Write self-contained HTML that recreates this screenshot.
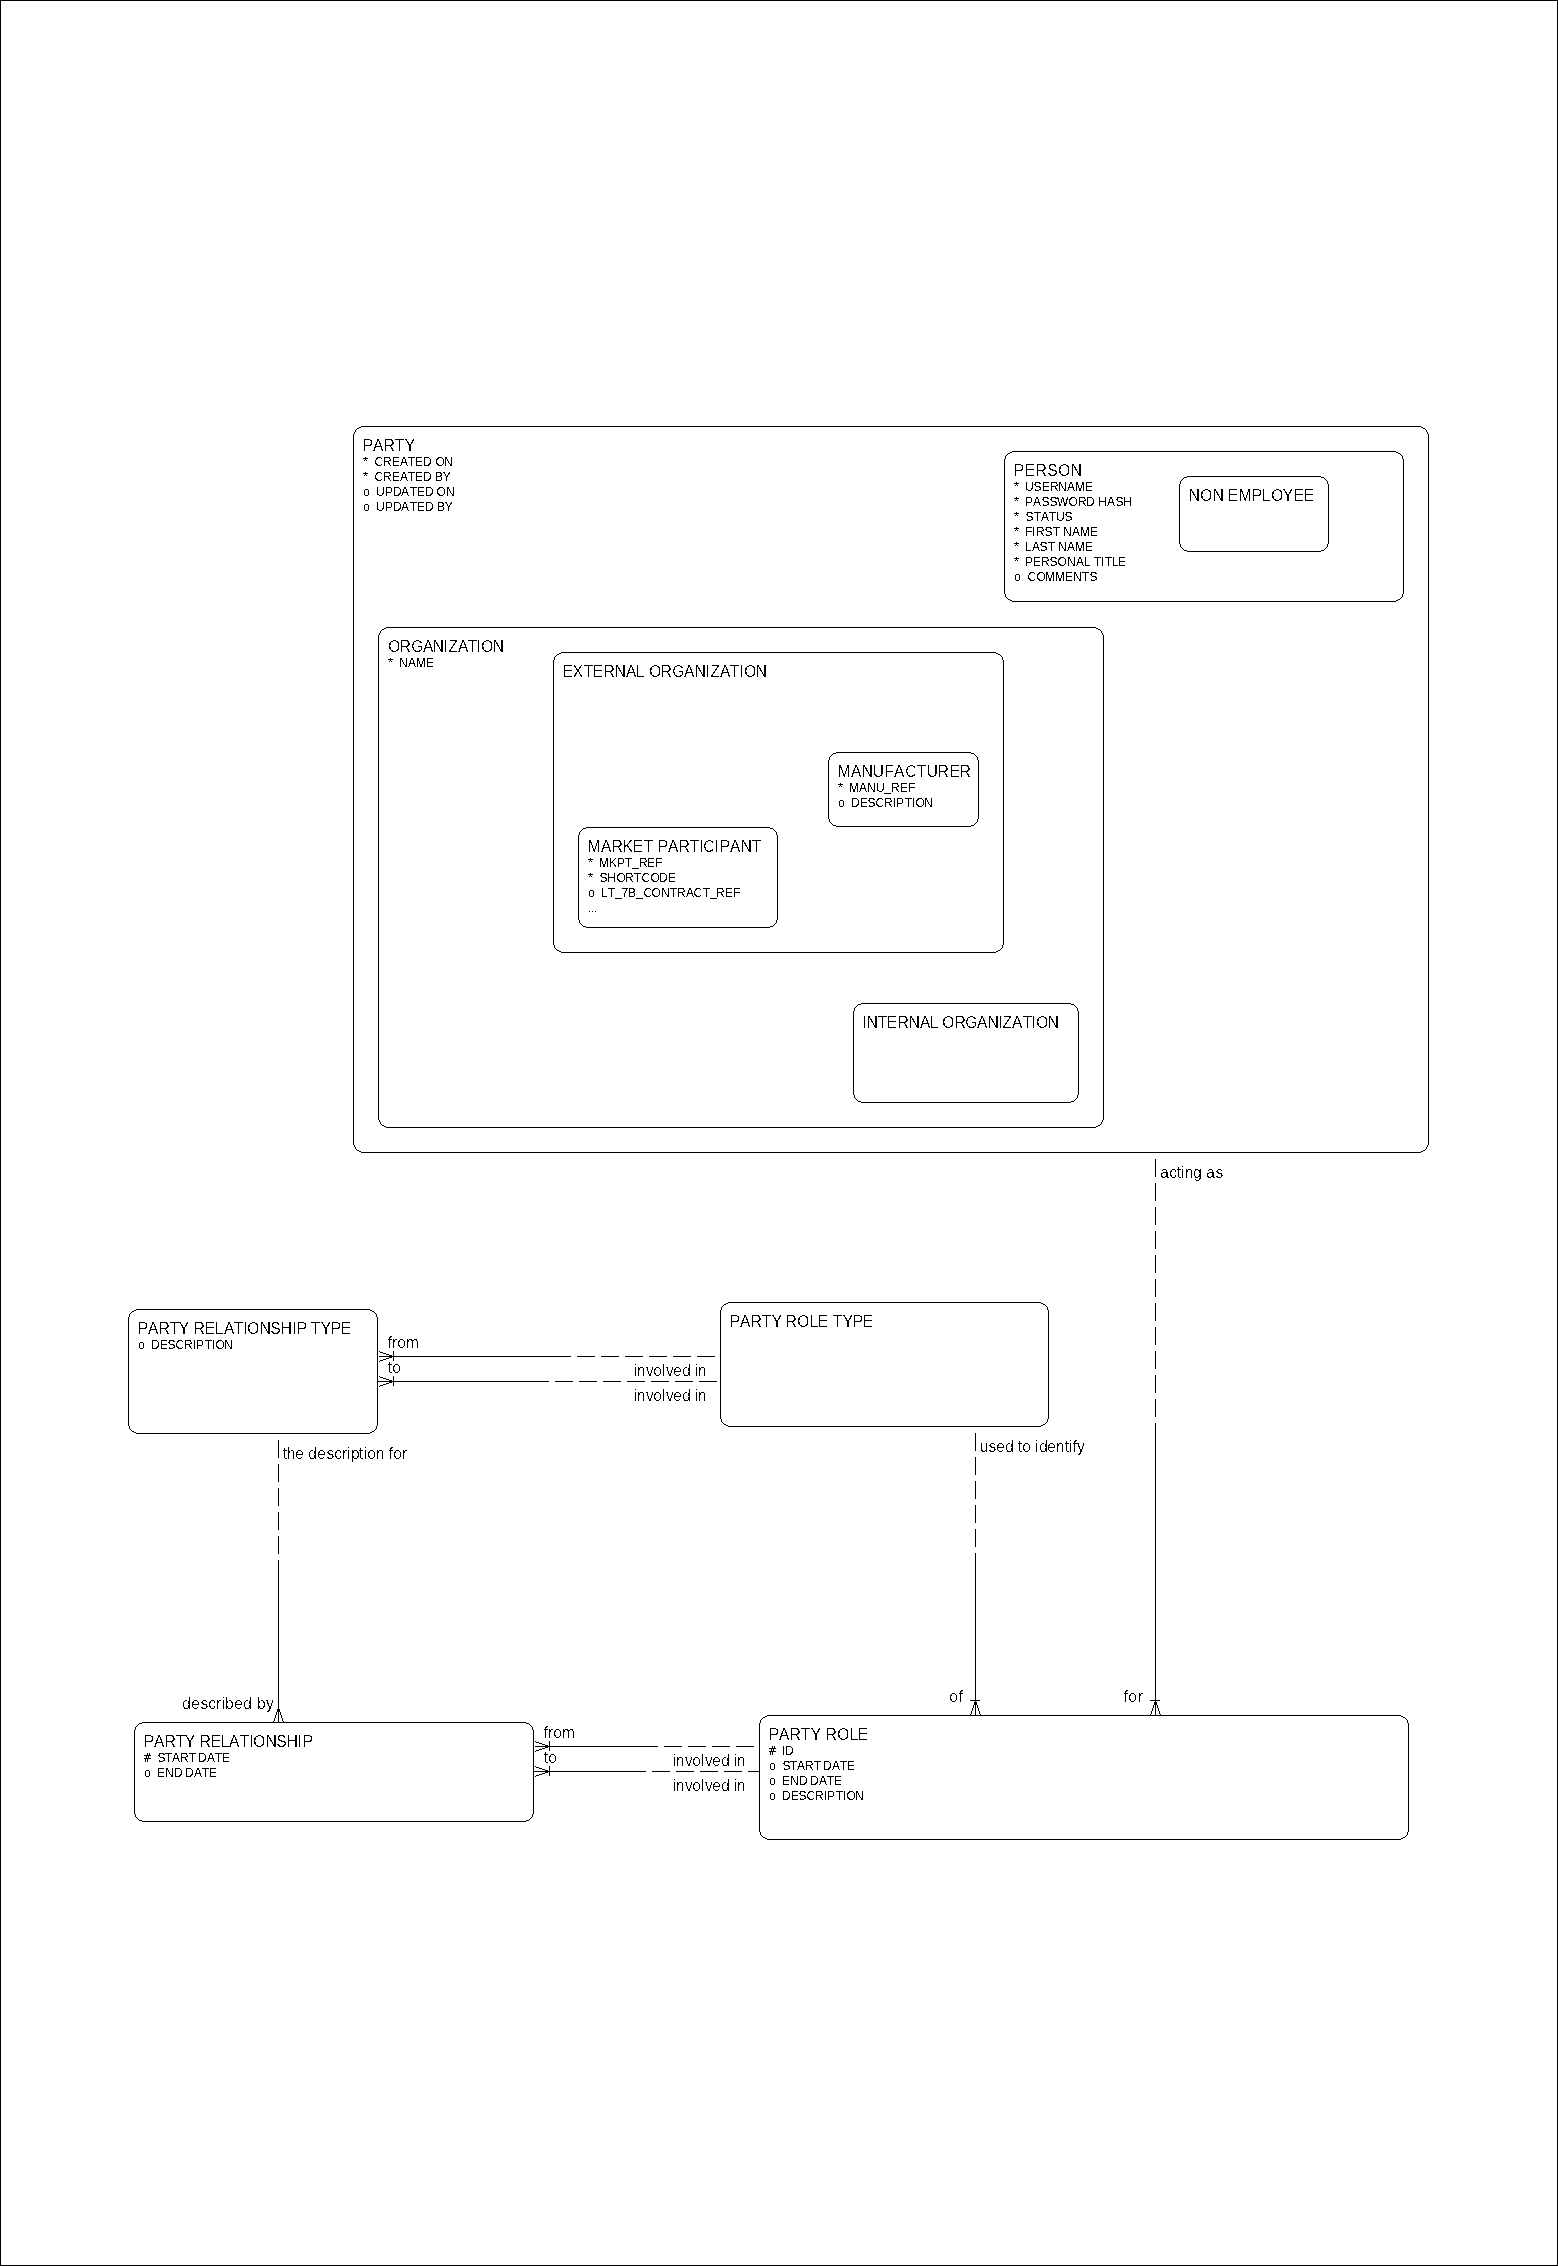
<!DOCTYPE html>
<html><head><meta charset="utf-8"><style>
html,body{margin:0;padding:0;background:#fff;}
body{width:1558px;height:2266px;overflow:hidden;}
svg{display:block;}
text{font-family:"Liberation Sans",sans-serif;fill:#000;white-space:pre;}
.s path,.s rect{fill:none;stroke:#000;stroke-width:1;}
.s rect.f{fill:#000;stroke:none;}
</style></head><body>
<svg width="1558" height="2266" viewBox="0 0 1558 2266">
<rect x="0.5" y="0.5" width="1557" height="2265" fill="#fff" stroke="#000" stroke-width="1"/>
<path d="M361 426h1060v1h-1060zM361 1152h1060v1h-1060zM353 434v711h1v-711zM1428 434v711h1v-711zM359 427h1v1h-1zM1422 427h1v1h-1zM359 1151h1v1h-1zM1422 1151h1v1h-1zM360 427h1v1h-1zM1421 427h1v1h-1zM360 1151h1v1h-1zM1421 1151h1v1h-1zM357 428h1v1h-1zM1424 428h1v1h-1zM357 1150h1v1h-1zM1424 1150h1v1h-1zM358 428h1v1h-1zM1423 428h1v1h-1zM358 1150h1v1h-1zM1423 1150h1v1h-1zM356 429h1v1h-1zM1425 429h1v1h-1zM356 1149h1v1h-1zM1425 1149h1v1h-1zM355 430h1v1h-1zM1426 430h1v1h-1zM355 1148h1v1h-1zM1426 1148h1v1h-1zM355 431h1v1h-1zM1426 431h1v1h-1zM355 1147h1v1h-1zM1426 1147h1v1h-1zM354 432h1v1h-1zM1427 432h1v1h-1zM354 1146h1v1h-1zM1427 1146h1v1h-1zM354 433h1v1h-1zM1427 433h1v1h-1zM354 1145h1v1h-1zM1427 1145h1v1h-1zM365 457h1v1h-1zM363 458h1v1h-1zM364 458h1v1h-1zM365 458h1v1h-1zM366 458h1v1h-1zM367 458h1v1h-1zM365 459h1v1h-1zM364 460h1v1h-1zM366 460h1v1h-1zM365 472h1v1h-1zM363 473h1v1h-1zM364 473h1v1h-1zM365 473h1v1h-1zM366 473h1v1h-1zM367 473h1v1h-1zM365 474h1v1h-1zM364 475h1v1h-1zM366 475h1v1h-1zM365 489h1v1h-1zM366 489h1v1h-1zM367 489h1v1h-1zM365 495h1v1h-1zM366 495h1v1h-1zM367 495h1v1h-1zM364 490h1v1h-1zM364 491h1v1h-1zM364 492h1v1h-1zM364 493h1v1h-1zM364 494h1v1h-1zM368 490h1v1h-1zM368 491h1v1h-1zM368 492h1v1h-1zM368 493h1v1h-1zM368 494h1v1h-1zM365 504h1v1h-1zM366 504h1v1h-1zM367 504h1v1h-1zM365 510h1v1h-1zM366 510h1v1h-1zM367 510h1v1h-1zM364 505h1v1h-1zM364 506h1v1h-1zM364 507h1v1h-1zM364 508h1v1h-1zM364 509h1v1h-1zM368 505h1v1h-1zM368 506h1v1h-1zM368 507h1v1h-1zM368 508h1v1h-1zM368 509h1v1h-1zM1012 451h384v1h-384zM1012 601h384v1h-384zM1004 459v135h1v-135zM1403 459v135h1v-135zM1010 452h1v1h-1zM1397 452h1v1h-1zM1010 600h1v1h-1zM1397 600h1v1h-1zM1011 452h1v1h-1zM1396 452h1v1h-1zM1011 600h1v1h-1zM1396 600h1v1h-1zM1008 453h1v1h-1zM1399 453h1v1h-1zM1008 599h1v1h-1zM1399 599h1v1h-1zM1009 453h1v1h-1zM1398 453h1v1h-1zM1009 599h1v1h-1zM1398 599h1v1h-1zM1007 454h1v1h-1zM1400 454h1v1h-1zM1007 598h1v1h-1zM1400 598h1v1h-1zM1006 455h1v1h-1zM1401 455h1v1h-1zM1006 597h1v1h-1zM1401 597h1v1h-1zM1005 456h1v1h-1zM1402 456h1v1h-1zM1005 596h1v1h-1zM1402 596h1v1h-1zM1005 457h1v1h-1zM1402 457h1v1h-1zM1005 595h1v1h-1zM1402 595h1v1h-1zM1005 458h1v1h-1zM1402 458h1v1h-1zM1005 594h1v1h-1zM1402 594h1v1h-1zM1016 482h1v1h-1zM1014 483h1v1h-1zM1015 483h1v1h-1zM1016 483h1v1h-1zM1017 483h1v1h-1zM1018 483h1v1h-1zM1016 484h1v1h-1zM1015 485h1v1h-1zM1017 485h1v1h-1zM1016 497h1v1h-1zM1014 498h1v1h-1zM1015 498h1v1h-1zM1016 498h1v1h-1zM1017 498h1v1h-1zM1018 498h1v1h-1zM1016 499h1v1h-1zM1015 500h1v1h-1zM1017 500h1v1h-1zM1016 512h1v1h-1zM1014 513h1v1h-1zM1015 513h1v1h-1zM1016 513h1v1h-1zM1017 513h1v1h-1zM1018 513h1v1h-1zM1016 514h1v1h-1zM1015 515h1v1h-1zM1017 515h1v1h-1zM1016 527h1v1h-1zM1014 528h1v1h-1zM1015 528h1v1h-1zM1016 528h1v1h-1zM1017 528h1v1h-1zM1018 528h1v1h-1zM1016 529h1v1h-1zM1015 530h1v1h-1zM1017 530h1v1h-1zM1016 542h1v1h-1zM1014 543h1v1h-1zM1015 543h1v1h-1zM1016 543h1v1h-1zM1017 543h1v1h-1zM1018 543h1v1h-1zM1016 544h1v1h-1zM1015 545h1v1h-1zM1017 545h1v1h-1zM1016 557h1v1h-1zM1014 558h1v1h-1zM1015 558h1v1h-1zM1016 558h1v1h-1zM1017 558h1v1h-1zM1018 558h1v1h-1zM1016 559h1v1h-1zM1015 560h1v1h-1zM1017 560h1v1h-1zM1016 574h1v1h-1zM1017 574h1v1h-1zM1018 574h1v1h-1zM1016 580h1v1h-1zM1017 580h1v1h-1zM1018 580h1v1h-1zM1015 575h1v1h-1zM1015 576h1v1h-1zM1015 577h1v1h-1zM1015 578h1v1h-1zM1015 579h1v1h-1zM1019 575h1v1h-1zM1019 576h1v1h-1zM1019 577h1v1h-1zM1019 578h1v1h-1zM1019 579h1v1h-1zM1187 476h134v1h-134zM1187 551h134v1h-134zM1179 484v60h1v-60zM1328 484v60h1v-60zM1184 477h1v1h-1zM1323 477h1v1h-1zM1184 550h1v1h-1zM1323 550h1v1h-1zM1185 477h1v1h-1zM1322 477h1v1h-1zM1185 550h1v1h-1zM1322 550h1v1h-1zM1186 477h1v1h-1zM1321 477h1v1h-1zM1186 550h1v1h-1zM1321 550h1v1h-1zM1183 478h1v1h-1zM1324 478h1v1h-1zM1183 549h1v1h-1zM1324 549h1v1h-1zM1182 479h1v1h-1zM1325 479h1v1h-1zM1182 548h1v1h-1zM1325 548h1v1h-1zM1181 480h1v1h-1zM1326 480h1v1h-1zM1181 547h1v1h-1zM1326 547h1v1h-1zM1180 481h1v1h-1zM1327 481h1v1h-1zM1180 546h1v1h-1zM1327 546h1v1h-1zM1180 482h1v1h-1zM1327 482h1v1h-1zM1180 545h1v1h-1zM1327 545h1v1h-1zM1180 483h1v1h-1zM1327 483h1v1h-1zM1180 544h1v1h-1zM1327 544h1v1h-1zM386 627h710v1h-710zM386 1127h710v1h-710zM378 635v485h1v-485zM1103 635v485h1v-485zM384 628h1v1h-1zM1097 628h1v1h-1zM384 1126h1v1h-1zM1097 1126h1v1h-1zM385 628h1v1h-1zM1096 628h1v1h-1zM385 1126h1v1h-1zM1096 1126h1v1h-1zM382 629h1v1h-1zM1099 629h1v1h-1zM382 1125h1v1h-1zM1099 1125h1v1h-1zM383 629h1v1h-1zM1098 629h1v1h-1zM383 1125h1v1h-1zM1098 1125h1v1h-1zM381 630h1v1h-1zM1100 630h1v1h-1zM381 1124h1v1h-1zM1100 1124h1v1h-1zM380 631h1v1h-1zM1101 631h1v1h-1zM380 1123h1v1h-1zM1101 1123h1v1h-1zM380 632h1v1h-1zM1101 632h1v1h-1zM380 1122h1v1h-1zM1101 1122h1v1h-1zM379 633h1v1h-1zM1102 633h1v1h-1zM379 1121h1v1h-1zM1102 1121h1v1h-1zM379 634h1v1h-1zM1102 634h1v1h-1zM379 1120h1v1h-1zM1102 1120h1v1h-1zM390 658h1v1h-1zM388 659h1v1h-1zM389 659h1v1h-1zM390 659h1v1h-1zM391 659h1v1h-1zM392 659h1v1h-1zM390 660h1v1h-1zM389 661h1v1h-1zM391 661h1v1h-1zM561 652h435v1h-435zM561 952h435v1h-435zM553 660v285h1v-285zM1003 660v285h1v-285zM559 653h1v1h-1zM997 653h1v1h-1zM559 951h1v1h-1zM997 951h1v1h-1zM560 653h1v1h-1zM996 653h1v1h-1zM560 951h1v1h-1zM996 951h1v1h-1zM557 654h1v1h-1zM999 654h1v1h-1zM557 950h1v1h-1zM999 950h1v1h-1zM558 654h1v1h-1zM998 654h1v1h-1zM558 950h1v1h-1zM998 950h1v1h-1zM556 655h1v1h-1zM1000 655h1v1h-1zM556 949h1v1h-1zM1000 949h1v1h-1zM555 656h1v1h-1zM1001 656h1v1h-1zM555 948h1v1h-1zM1001 948h1v1h-1zM554 657h1v1h-1zM1002 657h1v1h-1zM554 947h1v1h-1zM1002 947h1v1h-1zM554 658h1v1h-1zM1002 658h1v1h-1zM554 946h1v1h-1zM1002 946h1v1h-1zM554 659h1v1h-1zM1002 659h1v1h-1zM554 945h1v1h-1zM1002 945h1v1h-1zM836 752h135v1h-135zM836 826h135v1h-135zM828 760v59h1v-59zM978 760v59h1v-59zM833 753h1v1h-1zM973 753h1v1h-1zM833 825h1v1h-1zM973 825h1v1h-1zM834 753h1v1h-1zM972 753h1v1h-1zM834 825h1v1h-1zM972 825h1v1h-1zM835 753h1v1h-1zM971 753h1v1h-1zM835 825h1v1h-1zM971 825h1v1h-1zM832 754h1v1h-1zM974 754h1v1h-1zM832 824h1v1h-1zM974 824h1v1h-1zM831 755h1v1h-1zM975 755h1v1h-1zM831 823h1v1h-1zM975 823h1v1h-1zM830 756h1v1h-1zM976 756h1v1h-1zM830 822h1v1h-1zM976 822h1v1h-1zM829 757h1v1h-1zM977 757h1v1h-1zM829 821h1v1h-1zM977 821h1v1h-1zM829 758h1v1h-1zM977 758h1v1h-1zM829 820h1v1h-1zM977 820h1v1h-1zM829 759h1v1h-1zM977 759h1v1h-1zM829 819h1v1h-1zM977 819h1v1h-1zM840 783h1v1h-1zM838 784h1v1h-1zM839 784h1v1h-1zM840 784h1v1h-1zM841 784h1v1h-1zM842 784h1v1h-1zM840 785h1v1h-1zM839 786h1v1h-1zM841 786h1v1h-1zM840 800h1v1h-1zM841 800h1v1h-1zM842 800h1v1h-1zM840 806h1v1h-1zM841 806h1v1h-1zM842 806h1v1h-1zM839 801h1v1h-1zM839 802h1v1h-1zM839 803h1v1h-1zM839 804h1v1h-1zM839 805h1v1h-1zM843 801h1v1h-1zM843 802h1v1h-1zM843 803h1v1h-1zM843 804h1v1h-1zM843 805h1v1h-1zM586 827h184v1h-184zM586 927h184v1h-184zM578 835v85h1v-85zM777 835v85h1v-85zM583 828h1v1h-1zM772 828h1v1h-1zM583 926h1v1h-1zM772 926h1v1h-1zM584 828h1v1h-1zM771 828h1v1h-1zM584 926h1v1h-1zM771 926h1v1h-1zM585 828h1v1h-1zM770 828h1v1h-1zM585 926h1v1h-1zM770 926h1v1h-1zM582 829h1v1h-1zM773 829h1v1h-1zM582 925h1v1h-1zM773 925h1v1h-1zM581 830h1v1h-1zM774 830h1v1h-1zM581 924h1v1h-1zM774 924h1v1h-1zM580 831h1v1h-1zM775 831h1v1h-1zM580 923h1v1h-1zM775 923h1v1h-1zM579 832h1v1h-1zM776 832h1v1h-1zM579 922h1v1h-1zM776 922h1v1h-1zM579 833h1v1h-1zM776 833h1v1h-1zM579 921h1v1h-1zM776 921h1v1h-1zM579 834h1v1h-1zM776 834h1v1h-1zM579 920h1v1h-1zM776 920h1v1h-1zM590 858h1v1h-1zM588 859h1v1h-1zM589 859h1v1h-1zM590 859h1v1h-1zM591 859h1v1h-1zM592 859h1v1h-1zM590 860h1v1h-1zM589 861h1v1h-1zM591 861h1v1h-1zM590 873h1v1h-1zM588 874h1v1h-1zM589 874h1v1h-1zM590 874h1v1h-1zM591 874h1v1h-1zM592 874h1v1h-1zM590 875h1v1h-1zM589 876h1v1h-1zM591 876h1v1h-1zM590 890h1v1h-1zM591 890h1v1h-1zM592 890h1v1h-1zM590 896h1v1h-1zM591 896h1v1h-1zM592 896h1v1h-1zM589 891h1v1h-1zM589 892h1v1h-1zM589 893h1v1h-1zM589 894h1v1h-1zM589 895h1v1h-1zM593 891h1v1h-1zM593 892h1v1h-1zM593 893h1v1h-1zM593 894h1v1h-1zM593 895h1v1h-1zM589 911h1v1h-1zM592 911h1v1h-1zM595 911h1v1h-1zM861 1003h210v1h-210zM861 1102h210v1h-210zM853 1011v84h1v-84zM1078 1011v84h1v-84zM858 1004h1v1h-1zM1073 1004h1v1h-1zM858 1101h1v1h-1zM1073 1101h1v1h-1zM859 1004h1v1h-1zM1072 1004h1v1h-1zM859 1101h1v1h-1zM1072 1101h1v1h-1zM860 1004h1v1h-1zM1071 1004h1v1h-1zM860 1101h1v1h-1zM1071 1101h1v1h-1zM857 1005h1v1h-1zM1074 1005h1v1h-1zM857 1100h1v1h-1zM1074 1100h1v1h-1zM856 1006h1v1h-1zM1075 1006h1v1h-1zM856 1099h1v1h-1zM1075 1099h1v1h-1zM855 1007h1v1h-1zM1076 1007h1v1h-1zM855 1098h1v1h-1zM1076 1098h1v1h-1zM854 1008h1v1h-1zM1077 1008h1v1h-1zM854 1097h1v1h-1zM1077 1097h1v1h-1zM854 1009h1v1h-1zM1077 1009h1v1h-1zM854 1096h1v1h-1zM1077 1096h1v1h-1zM854 1010h1v1h-1zM1077 1010h1v1h-1zM854 1095h1v1h-1zM1077 1095h1v1h-1zM136 1309h234v1h-234zM136 1433h234v1h-234zM128 1317v109h1v-109zM377 1317v109h1v-109zM134 1310h1v1h-1zM371 1310h1v1h-1zM134 1432h1v1h-1zM371 1432h1v1h-1zM135 1310h1v1h-1zM370 1310h1v1h-1zM135 1432h1v1h-1zM370 1432h1v1h-1zM132 1311h1v1h-1zM373 1311h1v1h-1zM132 1431h1v1h-1zM373 1431h1v1h-1zM133 1311h1v1h-1zM372 1311h1v1h-1zM133 1431h1v1h-1zM372 1431h1v1h-1zM131 1312h1v1h-1zM374 1312h1v1h-1zM131 1430h1v1h-1zM374 1430h1v1h-1zM130 1313h1v1h-1zM375 1313h1v1h-1zM130 1429h1v1h-1zM375 1429h1v1h-1zM129 1314h1v1h-1zM376 1314h1v1h-1zM129 1428h1v1h-1zM376 1428h1v1h-1zM129 1315h1v1h-1zM376 1315h1v1h-1zM129 1427h1v1h-1zM376 1427h1v1h-1zM129 1316h1v1h-1zM376 1316h1v1h-1zM129 1426h1v1h-1zM376 1426h1v1h-1zM140 1342h1v1h-1zM141 1342h1v1h-1zM142 1342h1v1h-1zM140 1348h1v1h-1zM141 1348h1v1h-1zM142 1348h1v1h-1zM139 1343h1v1h-1zM139 1344h1v1h-1zM139 1345h1v1h-1zM139 1346h1v1h-1zM139 1347h1v1h-1zM143 1343h1v1h-1zM143 1344h1v1h-1zM143 1345h1v1h-1zM143 1346h1v1h-1zM143 1347h1v1h-1zM728 1302h313v1h-313zM728 1426h313v1h-313zM720 1310v109h1v-109zM1048 1310v109h1v-109zM726 1303h1v1h-1zM1042 1303h1v1h-1zM726 1425h1v1h-1zM1042 1425h1v1h-1zM727 1303h1v1h-1zM1041 1303h1v1h-1zM727 1425h1v1h-1zM1041 1425h1v1h-1zM724 1304h1v1h-1zM1044 1304h1v1h-1zM724 1424h1v1h-1zM1044 1424h1v1h-1zM725 1304h1v1h-1zM1043 1304h1v1h-1zM725 1424h1v1h-1zM1043 1424h1v1h-1zM723 1305h1v1h-1zM1045 1305h1v1h-1zM723 1423h1v1h-1zM1045 1423h1v1h-1zM722 1306h1v1h-1zM1046 1306h1v1h-1zM722 1422h1v1h-1zM1046 1422h1v1h-1zM721 1307h1v1h-1zM1047 1307h1v1h-1zM721 1421h1v1h-1zM1047 1421h1v1h-1zM721 1308h1v1h-1zM1047 1308h1v1h-1zM721 1420h1v1h-1zM1047 1420h1v1h-1zM721 1309h1v1h-1zM1047 1309h1v1h-1zM721 1419h1v1h-1zM1047 1419h1v1h-1zM142 1722h384v1h-384zM142 1821h384v1h-384zM134 1730v84h1v-84zM533 1730v84h1v-84zM139 1723h1v1h-1zM528 1723h1v1h-1zM139 1820h1v1h-1zM528 1820h1v1h-1zM140 1723h1v1h-1zM527 1723h1v1h-1zM140 1820h1v1h-1zM527 1820h1v1h-1zM141 1723h1v1h-1zM526 1723h1v1h-1zM141 1820h1v1h-1zM526 1820h1v1h-1zM138 1724h1v1h-1zM529 1724h1v1h-1zM138 1819h1v1h-1zM529 1819h1v1h-1zM137 1725h1v1h-1zM530 1725h1v1h-1zM137 1818h1v1h-1zM530 1818h1v1h-1zM136 1726h1v1h-1zM531 1726h1v1h-1zM136 1817h1v1h-1zM531 1817h1v1h-1zM135 1727h1v1h-1zM532 1727h1v1h-1zM135 1816h1v1h-1zM532 1816h1v1h-1zM135 1728h1v1h-1zM532 1728h1v1h-1zM135 1815h1v1h-1zM532 1815h1v1h-1zM135 1729h1v1h-1zM532 1729h1v1h-1zM135 1814h1v1h-1zM532 1814h1v1h-1zM147 1753h1v1h-1zM149 1753h1v1h-1zM147 1754h1v1h-1zM149 1754h1v1h-1zM144 1755h1v1h-1zM145 1755h1v1h-1zM146 1755h1v1h-1zM147 1755h1v1h-1zM148 1755h1v1h-1zM149 1755h1v1h-1zM150 1755h1v1h-1zM146 1756h1v1h-1zM148 1756h1v1h-1zM146 1757h1v1h-1zM148 1757h1v1h-1zM144 1758h1v1h-1zM145 1758h1v1h-1zM146 1758h1v1h-1zM147 1758h1v1h-1zM148 1758h1v1h-1zM149 1758h1v1h-1zM150 1758h1v1h-1zM145 1759h1v1h-1zM147 1759h1v1h-1zM145 1760h1v1h-1zM147 1760h1v1h-1zM145 1761h1v1h-1zM147 1761h1v1h-1zM146 1770h1v1h-1zM147 1770h1v1h-1zM148 1770h1v1h-1zM146 1776h1v1h-1zM147 1776h1v1h-1zM148 1776h1v1h-1zM145 1771h1v1h-1zM145 1772h1v1h-1zM145 1773h1v1h-1zM145 1774h1v1h-1zM145 1775h1v1h-1zM149 1771h1v1h-1zM149 1772h1v1h-1zM149 1773h1v1h-1zM149 1774h1v1h-1zM149 1775h1v1h-1zM767 1715h634v1h-634zM767 1839h634v1h-634zM759 1723v109h1v-109zM1408 1723v109h1v-109zM765 1716h1v1h-1zM1402 1716h1v1h-1zM765 1838h1v1h-1zM1402 1838h1v1h-1zM766 1716h1v1h-1zM1401 1716h1v1h-1zM766 1838h1v1h-1zM1401 1838h1v1h-1zM763 1717h1v1h-1zM1404 1717h1v1h-1zM763 1837h1v1h-1zM1404 1837h1v1h-1zM764 1717h1v1h-1zM1403 1717h1v1h-1zM764 1837h1v1h-1zM1403 1837h1v1h-1zM762 1718h1v1h-1zM1405 1718h1v1h-1zM762 1836h1v1h-1zM1405 1836h1v1h-1zM761 1719h1v1h-1zM1406 1719h1v1h-1zM761 1835h1v1h-1zM1406 1835h1v1h-1zM760 1720h1v1h-1zM1407 1720h1v1h-1zM760 1834h1v1h-1zM1407 1834h1v1h-1zM760 1721h1v1h-1zM1407 1721h1v1h-1zM760 1833h1v1h-1zM1407 1833h1v1h-1zM760 1722h1v1h-1zM1407 1722h1v1h-1zM760 1832h1v1h-1zM1407 1832h1v1h-1zM772 1746h1v1h-1zM774 1746h1v1h-1zM772 1747h1v1h-1zM774 1747h1v1h-1zM769 1748h1v1h-1zM770 1748h1v1h-1zM771 1748h1v1h-1zM772 1748h1v1h-1zM773 1748h1v1h-1zM774 1748h1v1h-1zM775 1748h1v1h-1zM771 1749h1v1h-1zM773 1749h1v1h-1zM771 1750h1v1h-1zM773 1750h1v1h-1zM769 1751h1v1h-1zM770 1751h1v1h-1zM771 1751h1v1h-1zM772 1751h1v1h-1zM773 1751h1v1h-1zM774 1751h1v1h-1zM775 1751h1v1h-1zM770 1752h1v1h-1zM772 1752h1v1h-1zM770 1753h1v1h-1zM772 1753h1v1h-1zM770 1754h1v1h-1zM772 1754h1v1h-1zM771 1763h1v1h-1zM772 1763h1v1h-1zM773 1763h1v1h-1zM771 1769h1v1h-1zM772 1769h1v1h-1zM773 1769h1v1h-1zM770 1764h1v1h-1zM770 1765h1v1h-1zM770 1766h1v1h-1zM770 1767h1v1h-1zM770 1768h1v1h-1zM774 1764h1v1h-1zM774 1765h1v1h-1zM774 1766h1v1h-1zM774 1767h1v1h-1zM774 1768h1v1h-1zM771 1778h1v1h-1zM772 1778h1v1h-1zM773 1778h1v1h-1zM771 1784h1v1h-1zM772 1784h1v1h-1zM773 1784h1v1h-1zM770 1779h1v1h-1zM770 1780h1v1h-1zM770 1781h1v1h-1zM770 1782h1v1h-1zM770 1783h1v1h-1zM774 1779h1v1h-1zM774 1780h1v1h-1zM774 1781h1v1h-1zM774 1782h1v1h-1zM774 1783h1v1h-1zM771 1793h1v1h-1zM772 1793h1v1h-1zM773 1793h1v1h-1zM771 1799h1v1h-1zM772 1799h1v1h-1zM773 1799h1v1h-1zM770 1794h1v1h-1zM770 1795h1v1h-1zM770 1796h1v1h-1zM770 1797h1v1h-1zM770 1798h1v1h-1zM774 1794h1v1h-1zM774 1795h1v1h-1zM774 1796h1v1h-1zM774 1797h1v1h-1zM774 1798h1v1h-1zM379 1351h1v1h-1zM379 1361h1v1h-1zM380 1352h1v1h-1zM380 1360h1v1h-1zM381 1352h1v1h-1zM381 1360h1v1h-1zM382 1352h1v1h-1zM382 1360h1v1h-1zM383 1353h1v1h-1zM383 1359h1v1h-1zM384 1353h1v1h-1zM384 1359h1v1h-1zM385 1353h1v1h-1zM385 1359h1v1h-1zM386 1354h1v1h-1zM386 1358h1v1h-1zM387 1354h1v1h-1zM387 1358h1v1h-1zM388 1354h1v1h-1zM388 1358h1v1h-1zM389 1355h1v1h-1zM389 1356h1v1h-1zM389 1357h1v1h-1zM390 1355h1v1h-1zM390 1356h1v1h-1zM390 1357h1v1h-1zM391 1355h1v1h-1zM391 1356h1v1h-1zM391 1357h1v1h-1zM379 1376h1v1h-1zM379 1386h1v1h-1zM380 1377h1v1h-1zM380 1385h1v1h-1zM381 1377h1v1h-1zM381 1385h1v1h-1zM382 1377h1v1h-1zM382 1385h1v1h-1zM383 1378h1v1h-1zM383 1384h1v1h-1zM384 1378h1v1h-1zM384 1384h1v1h-1zM385 1378h1v1h-1zM385 1384h1v1h-1zM386 1379h1v1h-1zM386 1383h1v1h-1zM387 1379h1v1h-1zM387 1383h1v1h-1zM388 1379h1v1h-1zM388 1383h1v1h-1zM389 1380h1v1h-1zM389 1381h1v1h-1zM389 1382h1v1h-1zM390 1380h1v1h-1zM390 1381h1v1h-1zM390 1382h1v1h-1zM391 1380h1v1h-1zM391 1381h1v1h-1zM391 1382h1v1h-1zM277 1709h1v1h-1zM277 1710h1v1h-1zM277 1711h1v1h-1zM278 1709h1v1h-1zM278 1710h1v1h-1zM278 1711h1v1h-1zM279 1709h1v1h-1zM279 1710h1v1h-1zM279 1711h1v1h-1zM276 1712h1v1h-1zM280 1712h1v1h-1zM276 1713h1v1h-1zM280 1713h1v1h-1zM276 1714h1v1h-1zM280 1714h1v1h-1zM275 1715h1v1h-1zM281 1715h1v1h-1zM275 1716h1v1h-1zM281 1716h1v1h-1zM275 1717h1v1h-1zM281 1717h1v1h-1zM274 1718h1v1h-1zM282 1718h1v1h-1zM274 1719h1v1h-1zM282 1719h1v1h-1zM274 1720h1v1h-1zM282 1720h1v1h-1zM273 1721h1v1h-1zM283 1721h1v1h-1zM974 1702h1v1h-1zM974 1703h1v1h-1zM974 1704h1v1h-1zM975 1702h1v1h-1zM975 1703h1v1h-1zM975 1704h1v1h-1zM976 1702h1v1h-1zM976 1703h1v1h-1zM976 1704h1v1h-1zM973 1705h1v1h-1zM977 1705h1v1h-1zM973 1706h1v1h-1zM977 1706h1v1h-1zM973 1707h1v1h-1zM977 1707h1v1h-1zM972 1708h1v1h-1zM978 1708h1v1h-1zM972 1709h1v1h-1zM978 1709h1v1h-1zM972 1710h1v1h-1zM978 1710h1v1h-1zM971 1711h1v1h-1zM979 1711h1v1h-1zM971 1712h1v1h-1zM979 1712h1v1h-1zM971 1713h1v1h-1zM979 1713h1v1h-1zM970 1714h1v1h-1zM980 1714h1v1h-1zM1154 1702h1v1h-1zM1154 1703h1v1h-1zM1154 1704h1v1h-1zM1155 1702h1v1h-1zM1155 1703h1v1h-1zM1155 1704h1v1h-1zM1156 1702h1v1h-1zM1156 1703h1v1h-1zM1156 1704h1v1h-1zM1153 1705h1v1h-1zM1157 1705h1v1h-1zM1153 1706h1v1h-1zM1157 1706h1v1h-1zM1153 1707h1v1h-1zM1157 1707h1v1h-1zM1152 1708h1v1h-1zM1158 1708h1v1h-1zM1152 1709h1v1h-1zM1158 1709h1v1h-1zM1152 1710h1v1h-1zM1158 1710h1v1h-1zM1151 1711h1v1h-1zM1159 1711h1v1h-1zM1151 1712h1v1h-1zM1159 1712h1v1h-1zM1151 1713h1v1h-1zM1159 1713h1v1h-1zM1150 1714h1v1h-1zM1160 1714h1v1h-1zM535 1741h1v1h-1zM535 1751h1v1h-1zM536 1742h1v1h-1zM536 1750h1v1h-1zM537 1742h1v1h-1zM537 1750h1v1h-1zM538 1742h1v1h-1zM538 1750h1v1h-1zM539 1743h1v1h-1zM539 1749h1v1h-1zM540 1743h1v1h-1zM540 1749h1v1h-1zM541 1743h1v1h-1zM541 1749h1v1h-1zM542 1744h1v1h-1zM542 1748h1v1h-1zM543 1744h1v1h-1zM543 1748h1v1h-1zM544 1744h1v1h-1zM544 1748h1v1h-1zM545 1745h1v1h-1zM545 1746h1v1h-1zM545 1747h1v1h-1zM546 1745h1v1h-1zM546 1746h1v1h-1zM546 1747h1v1h-1zM547 1745h1v1h-1zM547 1746h1v1h-1zM547 1747h1v1h-1zM535 1766h1v1h-1zM535 1776h1v1h-1zM536 1767h1v1h-1zM536 1775h1v1h-1zM537 1767h1v1h-1zM537 1775h1v1h-1zM538 1767h1v1h-1zM538 1775h1v1h-1zM539 1768h1v1h-1zM539 1774h1v1h-1zM540 1768h1v1h-1zM540 1774h1v1h-1zM541 1768h1v1h-1zM541 1774h1v1h-1zM542 1769h1v1h-1zM542 1773h1v1h-1zM543 1769h1v1h-1zM543 1773h1v1h-1zM544 1769h1v1h-1zM544 1773h1v1h-1zM545 1770h1v1h-1zM545 1771h1v1h-1zM545 1772h1v1h-1zM546 1770h1v1h-1zM546 1771h1v1h-1zM546 1772h1v1h-1zM547 1770h1v1h-1zM547 1771h1v1h-1zM547 1772h1v1h-1z" fill="#000" shape-rendering="crispEdges"/>
<g class="s" shape-rendering="crispEdges">
<path d="M379 1356.5H571"/>
<path d="M577 1356.5H595"/>
<path d="M601 1356.5H619"/>
<path d="M625 1356.5H643"/>
<path d="M649 1356.5H667"/>
<path d="M673 1356.5H691"/>
<path d="M697 1356.5H715"/>
<path d="M393.5 1351V1361"/>
<path d="M378 1381.5H549"/>
<path d="M555 1381.5H573"/>
<path d="M579 1381.5H597"/>
<path d="M603 1381.5H621"/>
<path d="M627 1381.5H645"/>
<path d="M651 1381.5H669"/>
<path d="M675 1381.5H693"/>
<path d="M699 1381.5H717"/>
<path d="M393.5 1376V1386"/>
<path d="M278.5 1440V1458"/>
<path d="M278.5 1464V1482"/>
<path d="M278.5 1488V1506"/>
<path d="M278.5 1512V1530"/>
<path d="M278.5 1536V1554"/>
<path d="M278.5 1560V1722"/>
<path d="M975.5 1433V1451"/>
<path d="M975.5 1457V1475"/>
<path d="M975.5 1481V1499"/>
<path d="M975.5 1505V1523"/>
<path d="M975.5 1529V1547"/>
<path d="M975.5 1553V1715"/>
<path d="M970 1700.5H980"/>
<path d="M1155.5 1159V1177"/>
<path d="M1155.5 1183V1201"/>
<path d="M1155.5 1207V1225"/>
<path d="M1155.5 1231V1249"/>
<path d="M1155.5 1255V1273"/>
<path d="M1155.5 1279V1297"/>
<path d="M1155.5 1303V1321"/>
<path d="M1155.5 1327V1345"/>
<path d="M1155.5 1351V1369"/>
<path d="M1155.5 1375V1393"/>
<path d="M1155.5 1399V1417"/>
<path d="M1155.5 1423V1715"/>
<path d="M1150 1700.5H1160"/>
<path d="M535 1746.5H658"/>
<path d="M664 1746.5H682"/>
<path d="M688 1746.5H706"/>
<path d="M712 1746.5H730"/>
<path d="M736 1746.5H754"/>
<path d="M549.5 1741V1751"/>
<path d="M534 1771.5H646"/>
<path d="M652 1771.5H670"/>
<path d="M676 1771.5H694"/>
<path d="M700 1771.5H718"/>
<path d="M724 1771.5H742"/>
<path d="M748 1771.5H759"/>
<path d="M549.5 1766V1776"/>
</g>
<g class="t" filter="url(#th)">
<text x="374.39 383.02 392.02 399.98 407.73 415.02 423.02 432.00 435.43 444.02" y="466" font-size="12">CREATED ON</text>
<text x="374.39 383.02 392.02 399.98 407.73 415.02 423.02 432.00 435.02 442.74" y="481" font-size="12">CREATED BY</text>
<text x="376.07 385.02 393.02 400.98 409.73 417.02 425.02 433.00 436.43 446.02" y="496" font-size="12">UPDATED ON</text>
<text x="376.07 385.02 393.02 400.98 409.73 417.02 425.02 433.00 437.02 444.74" y="511" font-size="12">UPDATED BY</text>
<text x="1025.07 1033.46 1042.02 1050.02 1058.02 1066.98 1075.02 1085.02" y="491" font-size="12">USERNAME</text>
<text x="1025.02 1032.98 1041.46 1049.46 1056.95 1068.43 1078.02 1086.02 1095.00 1098.02 1106.98 1115.46 1123.02" y="506" font-size="12">PASSWORD HASH</text>
<text x="1025.46 1033.73 1040.98 1048.73 1056.07 1064.46" y="521" font-size="12">STATUS</text>
<text x="1025.02 1031.89 1036.02 1044.46 1052.73 1060.00 1063.02 1071.98 1080.02 1090.02" y="536" font-size="12">FIRST NAME</text>
<text x="1025.02 1031.98 1039.46 1047.73 1055.00 1058.02 1066.98 1075.02 1085.02" y="551" font-size="12">LAST NAME</text>
<text x="1025.02 1033.02 1041.02 1049.46 1057.43 1067.02 1075.98 1084.02 1090.00 1093.73 1100.89 1104.73 1112.02 1118.02" y="566" font-size="12">PERSONAL TITLE</text>
<text x="1027.39 1036.43 1045.02 1055.02 1065.02 1073.02 1081.73 1089.46" y="581" font-size="12">COMMENTS</text>
<text x="399.02 407.98 416.02 426.02" y="667" font-size="12">NAME</text>
<text x="849.02 858.98 867.02 876.07 884.18 891.02 900.02 908.02" y="792" dy="0 0 0 0 -1 1 0 0" font-size="12">MANU_REF</text>
<text x="851.02 860.02 867.46 875.39 884.02 892.89 896.02 904.73 911.89 915.43 924.02" y="807" font-size="12">DESCRIPTION</text>
<text x="599.02 609.02 617.02 624.73 632.18 639.02 647.02 655.02" y="867" dy="0 0 0 0 -1 1 0 0" font-size="12">MKPT_REF</text>
<text x="599.46 607.02 616.43 625.02 633.73 641.39 650.43 659.02 668.02" y="882" font-size="12">SHORTCODE</text>
<text x="601.02 607.73 615.18 621.38 628.02 636.18 643.39 651.43 661.02 669.73 677.02 685.98 693.39 702.73 710.18 716.02 725.02 733.02" y="897" dy="0 0 -1 1 0 -1 1 0 0 0 0 0 0 0 -1 1 0 0" font-size="12">LT_7B_CONTRACT_REF</text>
<text x="151.02 160.02 167.46 175.39 184.02 192.89 196.02 204.73 211.89 215.43 224.02" y="1349" font-size="12">DESCRIPTION</text>
<text x="157.46 164.73 171.98 180.02 188.73 195.00 198.02 206.98 214.73 222.02" y="1762" font-size="12">START DATE</text>
<text x="157.02 165.02 174.02 182.00 185.02 193.98 201.73 209.02" y="1777" font-size="12">END DATE</text>
<text x="781.89 785.02" y="1755" font-size="12">ID</text>
<text x="782.46 789.73 796.98 805.02 813.73 820.00 823.02 831.98 839.73 847.02" y="1770" font-size="12">START DATE</text>
<text x="782.02 790.02 799.02 807.00 810.02 818.98 826.73 834.02" y="1785" font-size="12">END DATE</text>
<text x="782.02 791.02 798.46 806.39 815.02 823.89 827.02 835.73 842.89 846.43 855.02" y="1800" font-size="12">DESCRIPTION</text>
</g>
<g class="t" filter="url(#thb)">
<text x="362.73 372.97 383.73 394.65 404.66" y="451" font-size="15.5" transform="matrix(1 0 0 1.1 0 -45.100)">PARTY</text>
<text x="1013.73 1024.73 1035.73 1047.30 1058.27 1070.73" y="476" font-size="15.5" transform="matrix(1 0 0 1.1 0 -47.600)">PERSON</text>
<text x="1188.73 1200.27 1212.73 1224.00 1227.73 1238.73 1251.73 1261.73 1271.27 1282.66 1293.73 1303.73" y="501" font-size="15.5" transform="matrix(1 0 0 1.1 0 -50.100)">NON EMPLOYEE</text>
<text x="388.27 399.73 411.22 422.97 432.73 443.57 448.51 457.97 467.65 476.57 481.27 492.73" y="652" font-size="15.5" transform="matrix(1 0 0 1.1 0 -65.200)">ORGANIZATION</text>
<text x="562.73 572.65 583.65 592.73 603.73 614.73 625.97 635.73 645.00 649.27 660.73 672.22 683.97 694.73 705.57 710.51 719.97 729.65 739.57 744.27 755.73" y="677" font-size="15.5" transform="matrix(1 0 0 1.1 0 -67.700)">EXTERNAL ORGANIZATION</text>
<text x="837.73 850.97 861.73 872.80 884.73 893.97 905.21 916.65 926.80 937.73 949.73 959.73" y="777" font-size="15.5" transform="matrix(1 0 0 1.1 0 -77.700)">MANUFACTURER</text>
<text x="587.73 600.97 611.73 622.73 632.73 643.65 653.00 657.73 667.97 678.73 689.65 699.57 703.21 714.57 719.73 729.97 740.73 751.65" y="852" font-size="15.5" transform="matrix(1 0 0 1.1 0 -85.200)">MARKET PARTICIPANT</text>
<text x="862.57 866.73 877.65 886.73 897.73 908.73 919.97 929.73 938.00 942.27 954.73 965.22 976.97 987.73 998.57 1002.51 1011.97 1022.65 1031.57 1036.27 1047.73" y="1028" font-size="15.5" transform="matrix(1 0 0 1.1 0 -102.800)">INTERNAL ORGANIZATION</text>
<text x="137.73 147.97 158.73 169.65 178.66 189.00 193.73 204.73 214.73 223.97 233.65 243.57 247.27 259.73 270.30 280.73 292.57 296.73 307.00 310.65 320.66 330.73 340.73" y="1334" font-size="15.5" transform="matrix(1 0 0 1.1 0 -133.400)">PARTY RELATIONSHIP TYPE</text>
<text x="729.73 739.97 750.73 761.65 771.66 782.00 785.73 797.27 809.73 817.73 828.00 832.65 842.66 852.73 862.73" y="1327" font-size="15.5" transform="matrix(1 0 0 1.1 0 -132.700)">PARTY ROLE TYPE</text>
<text x="143.73 153.97 164.73 175.65 184.66 195.00 199.73 210.73 220.73 228.97 239.65 249.57 253.27 265.73 276.30 286.73 297.57 302.73" y="1747" font-size="15.5" transform="matrix(1 0 0 1.1 0 -174.700)">PARTY RELATIONSHIP</text>
<text x="768.73 778.97 789.73 800.65 810.66 821.00 825.73 837.27 849.73 857.73" y="1740" font-size="15.5" transform="matrix(1 0 0 1.1 0 -174.000)">PARTY ROLE</text>
<text x="387.78 391.97 397.35 405.97" y="1348" font-size="15.5" transform="matrix(1 0 0 1.1 0 -134.800)">from</text>
<text x="387.77 392.35" y="1373" font-size="15.5" transform="matrix(1 0 0 1.1 0 -137.300)">to</text>
<text x="633.96 636.97 645.95 653.35 661.96 665.95 673.34 682.35 691.00 694.96 697.97" y="1376" font-size="15.5" transform="matrix(1 0 0 1.1 0 -137.600)">involved in</text>
<text x="633.96 636.97 645.95 653.35 661.96 665.95 673.34 682.35 691.00 694.96 697.97" y="1401" font-size="15.5" transform="matrix(1 0 0 1.1 0 -140.100)">involved in</text>
<text x="282.77 286.93 295.34 305.00 308.35 317.34 326.57 334.34 341.97 346.96 351.00 358.77 363.96 367.35 375.97 384.00 388.78 393.35 401.97" y="1459" font-size="15.5" transform="matrix(1 0 0 1.1 0 -145.900)">the description for</text>
<text x="182.35 191.34 200.57 208.34 215.97 221.96 225.00 234.34 243.35 252.00 257.00 265.96" y="1709" font-size="15.5" transform="matrix(1 0 0 1.1 0 -170.900)">described by</text>
<text x="979.99 988.57 996.34 1005.35 1014.00 1017.77 1022.35 1031.00 1034.96 1039.35 1047.34 1055.97 1064.77 1068.96 1072.78 1076.96" y="1452" font-size="15.5" transform="matrix(1 0 0 1.1 0 -145.200)">used to identify</text>
<text x="949.35 958.78" y="1702" font-size="15.5" transform="matrix(1 0 0 1.1 0 -170.200)">of</text>
<text x="1160.34 1169.34 1176.77 1180.96 1184.97 1193.35 1202.00 1206.34 1215.57" y="1178" font-size="15.5" transform="matrix(1 0 0 1.1 0 -117.800)">acting as</text>
<text x="1123.78 1128.35 1137.97" y="1702" font-size="15.5" transform="matrix(1 0 0 1.1 0 -170.200)">for</text>
<text x="543.78 547.97 553.35 561.97" y="1738" font-size="15.5" transform="matrix(1 0 0 1.1 0 -173.800)">from</text>
<text x="543.77 548.35" y="1763" font-size="15.5" transform="matrix(1 0 0 1.1 0 -176.300)">to</text>
<text x="672.96 675.97 684.95 692.35 700.96 704.95 712.34 721.35 730.00 733.96 736.97" y="1766" font-size="15.5" transform="matrix(1 0 0 1.1 0 -176.600)">involved in</text>
<text x="672.96 675.97 684.95 692.35 700.96 704.95 712.34 721.35 730.00 733.96 736.97" y="1791" font-size="15.5" transform="matrix(1 0 0 1.1 0 -179.100)">involved in</text>
</g>
<defs><filter id="th" x="0" y="0" width="100%" height="100%" filterUnits="userSpaceOnUse"><feComponentTransfer><feFuncA type="discrete" tableValues="0 1"/></feComponentTransfer></filter><filter id="thb" x="0" y="0" width="100%" height="100%" filterUnits="userSpaceOnUse"><feComponentTransfer><feFuncA type="discrete" tableValues="0 0 0 1 1"/></feComponentTransfer></filter></defs>
</svg>
</body></html>
